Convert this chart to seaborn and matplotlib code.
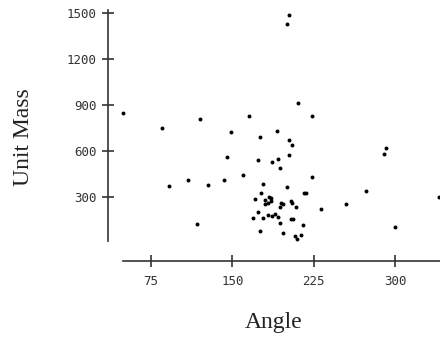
import pandas as pd
import seaborn as sns
import matplotlib
matplotlib.use("Agg")
import matplotlib.pyplot as plt

# Data
angle = [202.3, 200.7, 210.8, 165.4, 223.5, 49.2, 84.9, 120.2, 148.5, 175.5,
         190.9, 202.3, 205.2, 291.4, 289.9, 145.4, 174.0, 186.6, 192.4, 202.3,
         193.7, 159.6, 223.5, 91.9, 108.8, 127.1, 142.6, 117.1, 178.3, 200.7,
         216.1, 217.5, 176.2, 170.6, 183.5, 185.4, 185.9, 182.9, 180.4, 179.9,
         195.2, 196.7, 193.7, 203.8, 205.3, 209.0, 173.7, 169.1, 178.3, 182.9,
         186.6, 189.6, 192.1, 193.7, 203.8, 205.9, 215.2, 175.2, 196.7, 207.5,
         213.0, 209.9, 231.8, 254.5, 273.0, 340.3, 299.7]
unit_mass = [1489, 1428, 911, 831, 830, 850, 750, 811, 722, 691,
             730, 672, 642, 621, 580, 562, 541, 531, 550, 572,
             491, 441, 430, 372, 411, 381, 411, 123, 385, 367,
             324, 324, 324, 285, 302, 291, 276, 263, 254, 280,
             263, 254, 237, 276, 263, 237, 204, 165, 165, 183,
             176, 189, 171, 132, 155, 155, 117, 80, 67, 46,
             52, 24, 222, 252, 341, 298, 102]

x_ticks = [75, 150, 225, 300]
y_ticks = [300, 600, 900, 1200, 1500]

df = pd.DataFrame({"Angle": angle, "Unit Mass": unit_mass})

sns.set_style("ticks")
plt.rcParams["font.family"] = ["DejaVu Sans Mono", "DejaVu Sans"]

fig = plt.figure(figsize=(4.4, 3.39), dpi=100)
ax = fig.add_axes([0.2455, 0.230, 0.7545, 0.770])

sns.scatterplot(data=df, x="Angle", y="Unit Mass", ax=ax,
                color="black", s=8, linewidth=0)

ax.set_xlim(35.3, 341.5)
ax.set_ylim(-117, 1585)
ax.set_xticks(x_ticks)
ax.set_yticks(y_ticks)
ax.set_xlabel("")
ax.set_ylabel("")

for side in ["top", "right"]:
    ax.spines[side].set_visible(False)
for side in ["left", "bottom"]:
    ax.spines[side].set_linewidth(1.2)
    ax.spines[side].set_color("#333333")
ax.spines["left"].set_bounds(13, 1520)
ax.spines["bottom"].set_bounds(min(angle), 345)

ax.tick_params(axis="both", direction="inout", length=8, width=1.2,
               color="#333333", labelsize=9, labelcolor="#333333")
ax.tick_params(axis="y", pad=4)
ax.tick_params(axis="x", pad=6)

fig.text(0.6227, 0.050, "Angle", ha="center", va="center",
         family="Liberation Serif", fontsize=17, color="#222222")
fig.text(0.0545, 0.596, "Unit Mass", ha="center", va="center", rotation=90,
         family="Liberation Serif", fontsize=17, color="#222222")

fig.savefig("out.png", dpi=100)
